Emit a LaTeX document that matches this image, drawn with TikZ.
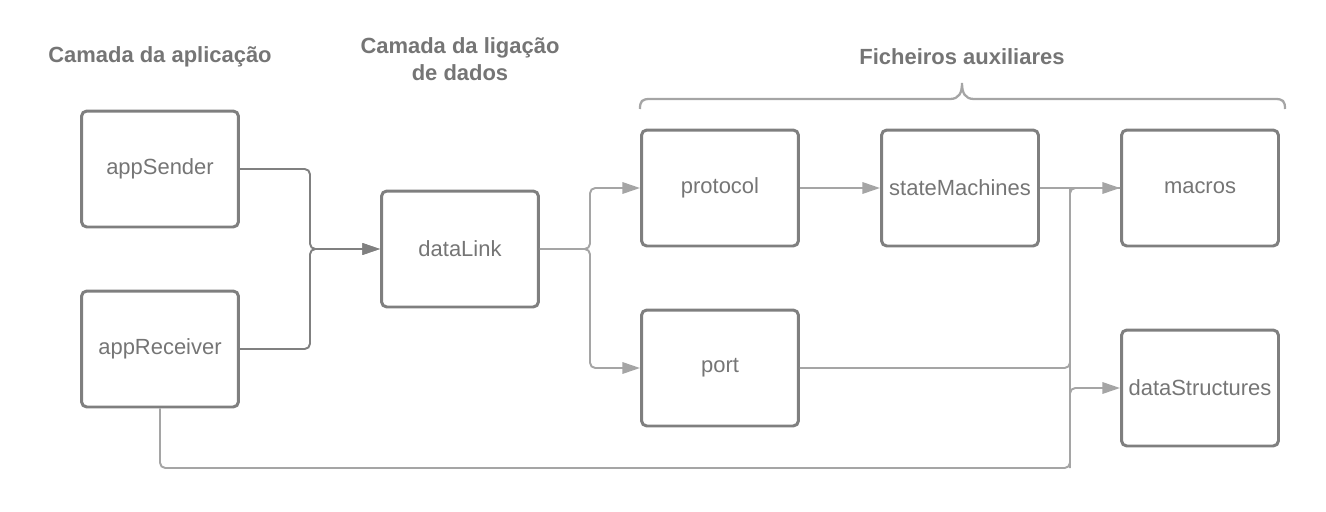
\documentclass[tikz,border=0pt]{standalone}
\usepackage{fontspec}
\setmainfont{Liberation Sans}
\usetikzlibrary{arrows.meta}
\definecolor{boxgray}{HTML}{7F7F7F}
\definecolor{txtgray}{HTML}{757575}
\definecolor{darkline}{HTML}{808080}
\definecolor{lightline}{HTML}{A5A5A5}
\tikzset{
  box/.style={draw=boxgray, line width=1.7pt, rounded corners=3pt,
    minimum width=3.14cm, minimum height=2.32cm, text=txtgray,
    font=\fontsize{12.5}{15}\selectfont},
  title/.style={text=txtgray, font=\fontsize{12.5}{15.4}\selectfont\bfseries, align=center},
  darklink/.style={draw=darkline, line width=1.1pt, rounded corners=3pt},
  lightlink/.style={draw=lightline, line width=1.1pt, rounded corners=3pt},
  tip/.style={-{Triangle[length=10pt,width=6.5pt]}}
}
\begin{document}
\begin{tikzpicture}[x=0.02cm, y=-0.02cm]
    \useasboundingbox (0,0) rectangle (1326,511);
    % titles
    \node[title] (t1) at (160,57) {Camada da aplicação};
    \node[title] (t2) at (460,59) {Camada da ligação\\de dados};
    \node[title] (t3) at (962,57) {Ficheiros auxiliares};
    \draw[draw=lightline, line width=1.3pt]
        (640,109) .. controls (640,101) and (642,99) .. (650,99) -- (950,99)
        .. controls (959,99) and (962,93) .. (962,83)
        .. controls (962,93) and (965,99) .. (974,99)
        -- (1275,99) .. controls (1283,99) and (1285,101) .. (1285,109);
    % boxes
    \node[box] (sender) at (160,169) {appSender};
    \node[box] (receiver) at (160,349) {appReceiver};
    \node[box] (datalink) at (460,249) {dataLink};
    \node[box] (protocol) at (720,188) {protocol};
    \node[box] (statem) at (960,188) {stateMachines};
    \node[box] (macros) at (1200,188) {macros};
    \node[box] (port) at (720,368) {port};
    \node[box] (dstruct) at (1200,388) {dataStructures};
    % junctions
    \coordinate (jl) at (310,249);
    \coordinate (jr) at (590,249);
    \coordinate (jm) at (1070,188);
    \coordinate (jb) at (1070,468);
    % connectors
    \draw[darklink, tip] (sender.east) -| (jl) -- (datalink.west);
    \draw[darklink, tip] (receiver.east) -| (jl) -- (datalink.west);
    \draw[lightlink, tip] (datalink.east) -- (jr) |- (protocol.west);
    \draw[lightlink, tip] (datalink.east) -- (jr) |- (port.west);
    \draw[lightlink, tip] (protocol.east) -- (statem.west);
    \draw[lightlink, tip] (statem.east) -- (macros.west);
    \draw[lightlink] (port.east) -| (jm);
    \draw[lightlink] (receiver.south) |- (jb) -- (jm) -- (macros.west);
    \draw[lightlink, tip] (jb) |- (dstruct.west);
\end{tikzpicture}
\end{document}
